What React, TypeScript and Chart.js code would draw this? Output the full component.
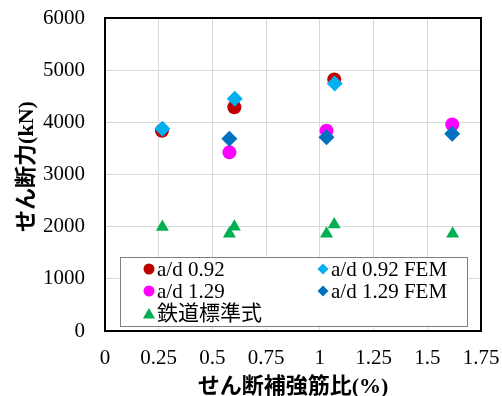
import React, { useEffect, useRef } from 'react';
import { Chart, registerables } from 'chart.js';
Chart.register(...registerables);

const xTicks = [0, 0.25, 0.5, 0.75, 1, 1.25, 1.5, 1.75];
const yTicks = [0, 1000, 2000, 3000, 4000, 5000, 6000];

const ad092X = [0.265, 0.602, 1.067];
const ad092Y = [3840, 4290, 4820];
const ad092FemX = [0.267, 0.604, 1.069];
const ad092FemY = [3875, 4450, 4745];
const ad129X = [0.579, 1.031, 1.616];
const ad129Y = [3425, 3840, 3958];
const ad129FemX = [0.579, 1.031, 1.616];
const ad129FemY = [3684, 3715, 3780];
const railX = [0.267, 0.579, 0.602, 1.031, 1.067, 1.618];
const railY = [1995, 1865, 2000, 1865, 2040, 1865];

const seriesNames = ['a/d 0.92', 'a/d 0.92 FEM', 'a/d 1.29', 'a/d 1.29 FEM', '鉄道標準式'];
const seriesColors = ['#C00000', '#00B0F0', '#FF00FF', '#0070C0', '#00B050'];
const seriesStyles = ['circle', 'rectRot', 'circle', 'rectRot', 'triangle'];

const xTitle = 'せん断補強筋比(%)';
const yTitle = 'せん断力(kN)';

const FONT = '"Liberation Serif", "Times New Roman", "Noto Sans CJK JP", serif';

const pts = (xs: number[], ys: number[]) => xs.map((x, i) => ({ x, y: ys[i] }));

function drawMarker(ctx: CanvasRenderingContext2D, style: string, x: number, y: number, r: number, color: string) {
  ctx.save();
  ctx.fillStyle = color;
  ctx.beginPath();
  if (style === 'circle') {
    ctx.arc(x, y, r, 0, Math.PI * 2);
  } else if (style === 'rectRot') {
    ctx.moveTo(x - r, y);
    ctx.lineTo(x, y - r);
    ctx.lineTo(x + r, y);
    ctx.lineTo(x, y + r);
    ctx.closePath();
  } else {
    ctx.moveTo(x, y - r);
    ctx.lineTo(x + r * 0.866, y + r * 0.5);
    ctx.lineTo(x - r * 0.866, y + r * 0.5);
    ctx.closePath();
  }
  ctx.fill();
  ctx.restore();
}

const framePlugin = {
  id: 'frame',
  beforeDatasetsDraw(chart: any) {
    const { ctx, chartArea } = chart;
    ctx.save();
    ctx.strokeStyle = '#000';
    ctx.lineWidth = 2;
    ctx.strokeRect(chartArea.left, chartArea.top, chartArea.right - chartArea.left, chartArea.bottom - chartArea.top);
    ctx.restore();
  },
  afterDraw(chart: any) {
    const { ctx, chartArea } = chart;
    // axis titles
    ctx.save();
    ctx.font = `bold 22px ${FONT}`;
    ctx.fillStyle = '#000';
    ctx.textAlign = 'center';
    ctx.textBaseline = 'middle';
    ctx.fillText(xTitle, (chartArea.left + chartArea.right) / 2, chartArea.bottom + 56);
    ctx.translate(chartArea.left - 78, (chartArea.top + chartArea.bottom) / 2 - 8);
    ctx.rotate(-Math.PI / 2);
    ctx.fillText(yTitle, 0, 0);
    ctx.restore();

    // legend
    const left = chartArea.left + 15;
    const right = chartArea.right - 14;
    const bottom = chartArea.bottom - 5;
    const top = bottom - 69;
    ctx.save();
    ctx.fillStyle = '#fff';
    ctx.fillRect(left, top, right - left, bottom - top);
    ctx.strokeStyle = '#7f7f7f';
    ctx.lineWidth = 1;
    ctx.strokeRect(left + 0.5, top + 0.5, right - left, bottom - top);
    const cols = [left + 29, left + 203];
    const rows = [top + 12, top + 34, top + 56];
    const pos = [[0, 0], [1, 0], [0, 1], [1, 1], [0, 2]];
    ctx.font = `21px ${FONT}`;
    ctx.textBaseline = 'middle';
    ctx.textAlign = 'left';
    seriesNames.forEach((name, i) => {
      const [c, r] = pos[i];
      const mx = cols[c];
      const my = rows[r];
      const st = seriesStyles[i];
      const rad = st === 'triangle' ? 7 : 5.5;
      drawMarker(ctx, st, mx, st === 'triangle' ? my + 2 : my, rad, seriesColors[i]);
      ctx.fillStyle = '#000';
      ctx.fillText(name, mx + 8, my + 1);
    });
    ctx.restore();
  },
};

export default function App() {
  const ref = useRef<HTMLCanvasElement>(null);
  useEffect(() => {
    const xs = [ad092X, ad092FemX, ad129X, ad129FemX, railX];
    const ys = [ad092Y, ad092FemY, ad129Y, ad129FemY, railY];
    const orders = [5, 3, 4, 2, 1];
    const radii = [7, 8, 7, 8, 7.5];
    const chart = new Chart(ref.current as HTMLCanvasElement, {
      type: 'scatter',
      data: {
        datasets: seriesNames.map((name, i) => ({
          label: name,
          data: pts(xs[i], ys[i]),
          pointStyle: seriesStyles[i] as any,
          pointRadius: radii[i],
          backgroundColor: seriesColors[i],
          borderColor: seriesColors[i],
          borderWidth: 0,
          order: orders[i],
        })),
      },
      options: {
        animation: false,
        responsive: false,
        layout: { padding: { left: 0, top: 18, right: 21, bottom: 0 } },
        plugins: { legend: { display: false }, tooltip: { enabled: false } },
        scales: {
          x: {
            type: 'linear',
            min: 0,
            max: 1.75,
            afterBuildTicks: (s: any) => { s.ticks = xTicks.map((v) => ({ value: v })); },
            afterFit: (s: any) => { s.height = 65; s.paddingLeft = 0; s.paddingRight = 0; s.paddingTop = 0; s.paddingBottom = 0; },
            grid: { color: '#d9d9d9', lineWidth: 1, drawTicks: false },
            border: { display: false },
            ticks: {
              padding: 15,
              color: '#000',
              font: { family: FONT, size: 21 },
              callback: (v: any) => String(v),
            },
            title: { display: false },
          },
          y: {
            type: 'linear',
            min: 0,
            max: 6000,
            afterBuildTicks: (s: any) => { s.ticks = yTicks.map((v) => ({ value: v })); },
            afterFit: (s: any) => { s.width = 105; s.paddingLeft = 0; s.paddingRight = 0; s.paddingTop = 0; s.paddingBottom = 0; },
            grid: { color: '#d9d9d9', lineWidth: 1, drawTicks: false },
            border: { display: false },
            ticks: {
              padding: 20,
              color: '#000',
              font: { family: FONT, size: 21 },
              callback: (v: any) => String(v),
            },
            title: { display: false },
          },
        },
      },
      plugins: [framePlugin],
    });
    return () => chart.destroy();
  }, []);
  return (
    <div style={{ position: 'fixed', left: 0, top: 0, width: 502, height: 396, background: '#fff' }}>
      <canvas ref={ref} width={502} height={396} style={{ width: 502, height: 396 }} />
    </div>
  );
}
